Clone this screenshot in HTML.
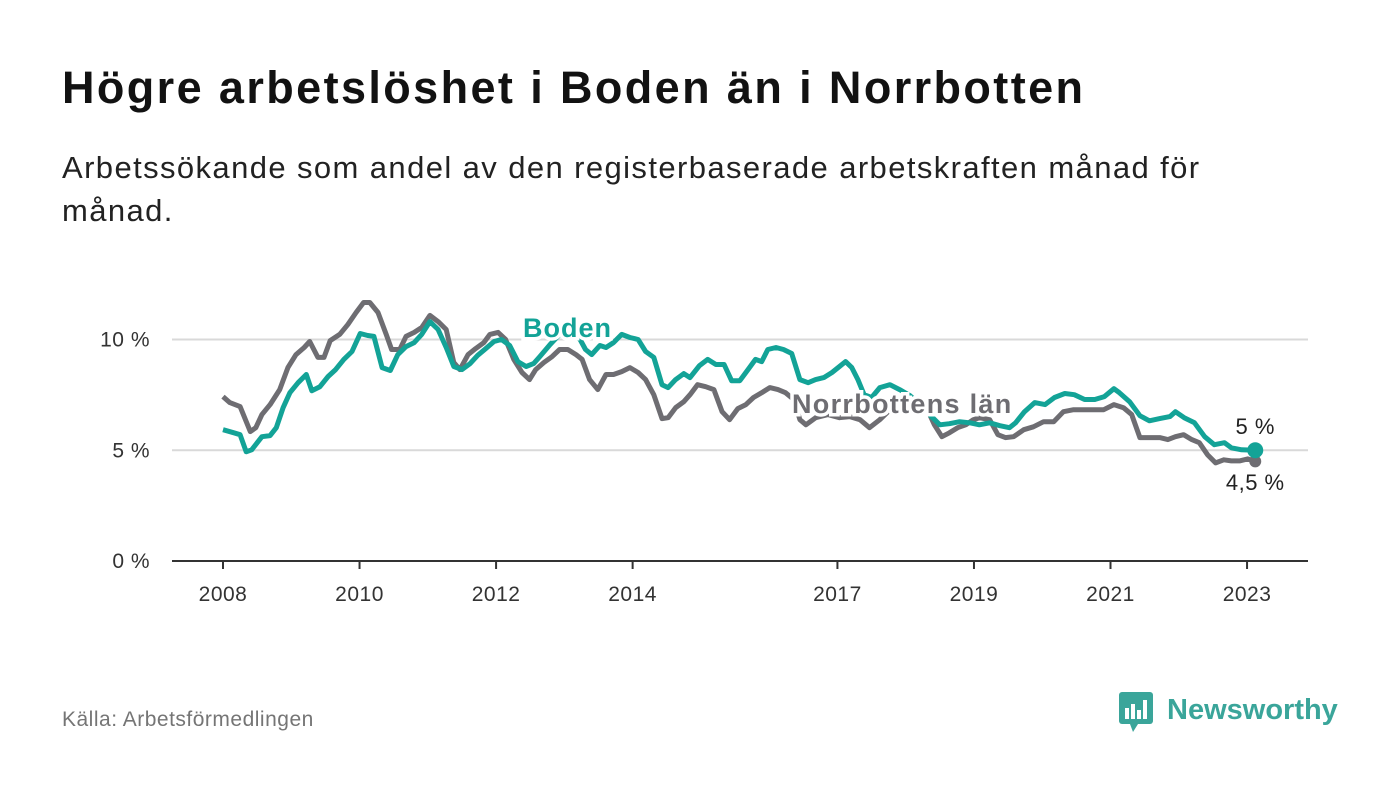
<!DOCTYPE html>
<html><head><meta charset="utf-8"><style>
body{margin:0;width:1400px;height:794px;background:#fff;font-family:"Liberation Sans",sans-serif;overflow:hidden;position:relative}
.t{position:absolute;left:62px;top:62px;font-size:45px;font-weight:bold;color:#121212;letter-spacing:2.4px}
.s{position:absolute;left:62px;top:146px;font-size:31px;line-height:43px;color:#222;width:1190px;letter-spacing:1.4px}
.src{position:absolute;left:62px;top:708px;font-size:21px;color:#757575;letter-spacing:0.5px}
</style></head><body>
<div class="t">Högre arbetslöshet i Boden än i Norrbotten</div>
<div class="s">Arbetssökande som andel av den registerbaserade arbetskraften månad för månad.</div>
<div class="src">Källa: Arbetsförmedlingen</div>
<svg width="1400" height="794" style="position:absolute;left:0;top:0" id="c">
<g>
<rect x="1119" y="692" width="34" height="32" rx="3" fill="#3aa59a"/>
<polygon points="1130,724 1138,724 1133,732" fill="#3aa59a"/>
<rect x="1125" y="708" width="4" height="11" fill="#fff"/><rect x="1131" y="704" width="4" height="15" fill="#fff"/><rect x="1137" y="710" width="4" height="9" fill="#fff"/><rect x="1143" y="700" width="4" height="19" fill="#fff"/>
<text x="1167" y="719" font-size="29" font-weight="bold" fill="#3aa59a">Newsworthy</text>
</g>
</svg>
<script>
const years=[2008,2010,2012,2014,2017,2019,2021,2023];
const yTicks=[0,5,10];
const yTickLabels=["0 %","5 %","10 %"];
const bodenDates=[2008.00,2008.16,2008.25,2008.34,2008.42,2008.57,2008.69,2008.78,2008.88,2008.98,2009.10,2009.22,2009.30,2009.42,2009.54,2009.65,2009.77,2009.89,2010.01,2010.12,2010.21,2010.33,2010.45,2010.56,2010.68,2010.80,2010.91,2011.03,2011.15,2011.27,2011.38,2011.50,2011.62,2011.73,2011.85,2011.97,2012.08,2012.20,2012.32,2012.44,2012.55,2012.64,2012.79,2012.93,2013.08,2013.23,2013.31,2013.40,2013.52,2013.61,2013.72,2013.84,2013.96,2014.08,2014.19,2014.31,2014.43,2014.52,2014.63,2014.75,2014.84,2014.98,2015.10,2015.22,2015.34,2015.45,2015.57,2015.69,2015.80,2015.89,2015.98,2016.10,2016.21,2016.33,2016.45,2016.57,2016.68,2016.80,2016.92,2017.03,2017.12,2017.21,2017.30,2017.39,2017.50,2017.62,2017.77,2017.91,2018.06,2018.21,2018.35,2018.50,2018.64,2018.79,2018.94,2019.08,2019.23,2019.38,2019.52,2019.61,2019.74,2019.89,2020.04,2020.18,2020.33,2020.47,2020.62,2020.77,2020.91,2021.05,2021.13,2021.28,2021.43,2021.57,2021.72,2021.87,2021.95,2022.08,2022.23,2022.38,2022.52,2022.67,2022.77,2022.92,2023.12];
const bodenValues=[5.93,5.79,5.70,4.93,5.02,5.61,5.66,6.02,6.92,7.60,8.05,8.42,7.69,7.87,8.33,8.64,9.10,9.46,10.27,10.18,10.14,8.73,8.60,9.32,9.68,9.86,10.23,10.81,10.45,9.64,8.78,8.64,8.91,9.28,9.59,9.91,10.00,9.73,9.00,8.78,8.91,9.23,9.77,10.23,10.32,10.00,9.55,9.32,9.73,9.64,9.86,10.23,10.09,10.00,9.46,9.19,7.96,7.83,8.19,8.46,8.28,8.82,9.10,8.87,8.87,8.14,8.14,8.64,9.10,9.00,9.55,9.64,9.55,9.37,8.19,8.05,8.19,8.28,8.51,8.78,9.00,8.73,8.19,7.51,7.38,7.83,7.96,7.74,7.47,7.06,6.61,6.15,6.20,6.29,6.24,6.15,6.24,6.11,6.02,6.24,6.74,7.15,7.06,7.38,7.56,7.51,7.29,7.29,7.42,7.78,7.60,7.19,6.56,6.33,6.43,6.52,6.74,6.47,6.24,5.61,5.25,5.34,5.11,5.02,5.0];
const norrDates=[2008.00,2008.10,2008.25,2008.40,2008.48,2008.57,2008.69,2008.83,2008.95,2009.07,2009.19,2009.27,2009.39,2009.48,2009.57,2009.71,2009.83,2009.95,2010.06,2010.15,2010.27,2010.39,2010.47,2010.59,2010.68,2010.80,2010.91,2011.03,2011.15,2011.27,2011.38,2011.47,2011.59,2011.70,2011.82,2011.91,2012.03,2012.14,2012.26,2012.38,2012.49,2012.58,2012.70,2012.82,2012.93,2013.05,2013.17,2013.26,2013.37,2013.49,2013.61,2013.72,2013.84,2013.96,2014.08,2014.19,2014.31,2014.43,2014.52,2014.63,2014.75,2014.84,2014.95,2015.07,2015.19,2015.31,2015.42,2015.54,2015.66,2015.77,2015.89,2016.01,2016.13,2016.24,2016.36,2016.45,2016.54,2016.68,2016.86,2017.03,2017.18,2017.33,2017.47,2017.62,2017.77,2017.91,2018.06,2018.21,2018.32,2018.42,2018.53,2018.64,2018.76,2018.88,2018.99,2019.08,2019.23,2019.35,2019.46,2019.58,2019.73,2019.87,2020.02,2020.17,2020.31,2020.46,2020.61,2020.75,2020.90,2021.05,2021.19,2021.31,2021.43,2021.57,2021.72,2021.84,2021.95,2022.07,2022.19,2022.30,2022.42,2022.54,2022.66,2022.77,2022.89,2023.01,2023.12];
const norrValues=[7.42,7.15,6.97,5.84,6.02,6.61,7.06,7.74,8.73,9.32,9.64,9.91,9.19,9.19,9.95,10.23,10.68,11.22,11.67,11.67,11.22,10.23,9.55,9.55,10.14,10.32,10.54,11.09,10.81,10.45,8.96,8.64,9.32,9.59,9.86,10.23,10.32,10.00,9.10,8.51,8.19,8.64,8.96,9.23,9.55,9.55,9.32,9.10,8.19,7.74,8.42,8.42,8.55,8.73,8.51,8.19,7.51,6.43,6.47,6.92,7.19,7.51,7.96,7.87,7.74,6.74,6.38,6.88,7.06,7.38,7.60,7.83,7.74,7.60,7.29,6.38,6.15,6.47,6.61,6.47,6.52,6.38,6.02,6.38,6.83,7.06,7.19,6.92,6.83,6.15,5.61,5.79,6.02,6.15,6.38,6.47,6.38,5.70,5.57,5.61,5.93,6.06,6.29,6.29,6.74,6.83,6.83,6.83,6.83,7.06,6.92,6.61,5.57,5.57,5.57,5.48,5.61,5.70,5.48,5.34,4.80,4.43,4.57,4.52,4.52,4.61,4.5];
const NS="http://www.w3.org/2000/svg";
const svg=document.getElementById('c');
const X=y=>223+(y-2008)*68.27;
const Y=v=>561-v*22.15;
function mk(tag,attrs,parent){const e=document.createElementNS(NS,tag);for(const k in attrs)e.setAttribute(k,attrs[k]);(parent||svg).appendChild(e);return e;}
yTicks.forEach((t,i)=>{
  if(t>0){const g=mk('line',{x1:172,x2:1308,y1:Y(t),y2:Y(t),stroke:'#d9d9d9','stroke-width':2});
  
  }
  const l=mk('text',{x:150,y:Y(t)+7,'font-size':21,'text-anchor':'end',fill:'#333','letter-spacing':0.5});l.textContent=yTickLabels[i];
  
  
});
const ax=mk('line',{x1:172,x2:1308,y1:561,y2:561,stroke:'#333','stroke-width':2});


years.forEach(yr=>{
  const tk=mk('line',{x1:X(yr),x2:X(yr),y1:561,y2:569,stroke:'#333','stroke-width':2});
  
  
  const l=mk('text',{x:X(yr),y:601,'font-size':21,'text-anchor':'middle',fill:'#333','letter-spacing':0.5});l.textContent=yr;
  
  
});
function line(d,v,col,name){
  const p=mk('path',{d:d.map((x,i)=>(i?'L':'M')+X(x).toFixed(1)+','+Y(v[i]).toFixed(1)).join(''),fill:'none',stroke:col,'stroke-width':5,'stroke-linejoin':'round'});
  
  
}
line(norrDates,norrValues,'#6e6d72','norrbotten-line');
line(bodenDates,bodenValues,'#13a397','boden-line');
const n=norrDates.length-1,b=bodenDates.length-1;
const d1=mk('circle',{cx:X(norrDates[n]),cy:Y(norrValues[n]),r:6,fill:'#6e6d72'});


const d2=mk('circle',{cx:X(bodenDates[b]),cy:Y(bodenValues[b]),r:8,fill:'#13a397'});


function lab(txt,x,y,col,name,bold,anchor,ls){
  const t=mk('text',{x:x,y:y,'font-size':bold?27:22,'font-weight':bold?'bold':'normal','text-anchor':anchor||'start',fill:col,stroke:'#fff','stroke-width':bold?7:0,'paint-order':'stroke','letter-spacing':ls||0});
  t.textContent=txt;
  
  
}
lab('Boden',523,337,'#13a397','boden-series-label',true,'start',1);
lab('Norrbottens län',792,413,'#6e6d72','norrbotten-series-label',true,'start',1.3);
lab(bodenValues[b].toString().replace('.',',')+' %',X(bodenDates[b]),434,'#222','boden-end-value',false,'middle',0.5);
lab(norrValues[n].toString().replace('.',',')+' %',X(norrDates[n]),490,'#222','norrbotten-end-value',false,'middle',0.5);
</script>
</body></html>
